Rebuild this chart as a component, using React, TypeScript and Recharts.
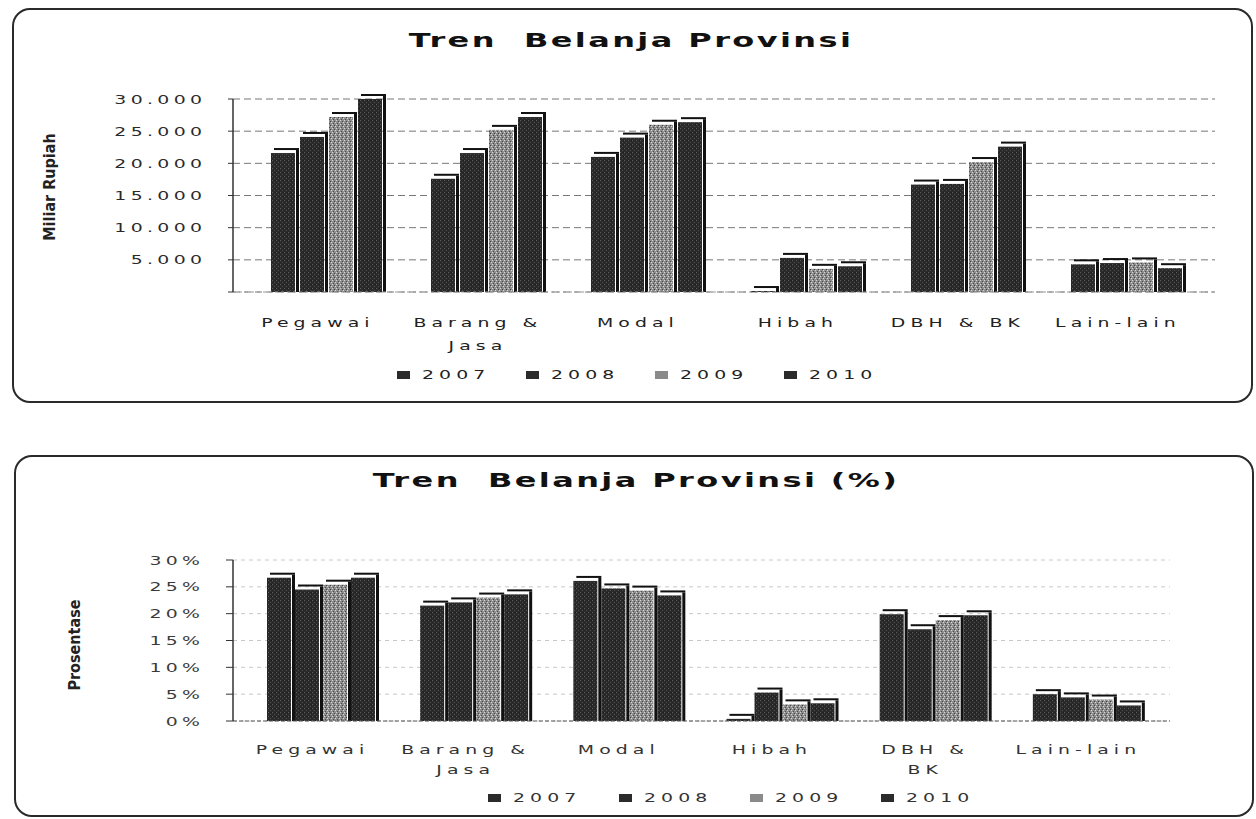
import { BarChart, Bar, XAxis, YAxis, CartesianGrid } from "recharts";

const categories = ["Pegawai", "Barang & Jasa", "Modal", "Hibah", "DBH & BK", "Lain-lain"];
const years = ["2007", "2008", "2009", "2010"];

// Miliar Rupiah
const nominal2007 = [21600, 17600, 21000, 150, 16700, 4300];
const nominal2008 = [24100, 21600, 24000, 5300, 16800, 4500];
const nominal2009 = [27200, 25200, 26000, 3600, 20200, 4600];
const nominal2010 = [30000, 27200, 26400, 4000, 22600, 3700];

// Prosentase
const share2007 = [26.7, 21.5, 26.1, 0.4, 19.9, 5.0];
const share2008 = [24.5, 22.1, 24.7, 5.3, 17.1, 4.4];
const share2009 = [25.4, 23.0, 24.3, 3.1, 18.8, 4.0];
const share2010 = [26.7, 23.6, 23.4, 3.3, 19.7, 2.9];

const nominalTicks = [0, 5000, 10000, 15000, 20000, 25000, 30000];
const shareTicks = [0, 5, 10, 15, 20, 25, 30];

const topLabelLines = [["Pegawai"], ["Barang &", "Jasa"], ["Modal"], ["Hibah"], ["DBH & BK"], ["Lain-lain"]];
const bottomLabelLines = [["Pegawai"], ["Barang &", "Jasa"], ["Modal"], ["Hibah"], ["DBH &", "BK"], ["Lain-lain"]];

const nominalData = categories.map((name, i) => ({
  name,
  y2007: nominal2007[i],
  y2008: nominal2008[i],
  y2009: nominal2009[i],
  y2010: nominal2010[i],
}));

const shareData = categories.map((name, i) => ({
  name,
  y2007: share2007[i],
  y2008: share2008[i],
  y2009: share2009[i],
  y2010: share2010[i],
}));

const SX = 1.45;
const FONT = '"DejaVu Sans", Verdana, sans-serif';
const legendColors = ["#2b2b2b", "#2b2b2b", "#8a8a8a", "#2b2b2b"];

function Bar3D(props: any) {
  const { x, y, width, height, fill } = props;
  if (x == null || y == null || !width) return null;
  const h = Math.max(height || 0, 0);
  return (
    <g>
      <rect x={x} y={y} width={width} height={h} fill={fill} />
      <rect x={x + width + 1} y={y - 3} width={3} height={h + 3} fill="#111" />
      <rect x={x + 3} y={y - 5} width={width + 1} height={2} fill="#111" />
    </g>
  );
}

function Textures({ id }: { id: string }) {
  return (
    <defs>
      <pattern id={`${id}-dark`} width="4" height="4" patternUnits="userSpaceOnUse">
        <rect width="4" height="4" fill="#2a2a2a" />
        <rect x="0" y="0" width="1" height="1" fill="#5e5e5e" />
        <rect x="2" y="2" width="1" height="1" fill="#4c4c4c" />
        <rect x="3" y="0" width="1" height="1" fill="#1a1a1a" />
      </pattern>
      <pattern id={`${id}-light`} width="4" height="4" patternUnits="userSpaceOnUse">
        <rect width="4" height="4" fill="#8e8e8e" />
        <rect x="0" y="0" width="1" height="1" fill="#d4d4d4" />
        <rect x="2" y="1" width="1" height="1" fill="#3c3c3c" />
        <rect x="1" y="3" width="1" height="1" fill="#4a4a4a" />
        <rect x="3" y="2" width="1" height="1" fill="#d8d8d8" />
      </pattern>
    </defs>
  );
}

function makeYTick(format: (v: number) => string, color: string) {
  return (props: any) => {
    const { x, y, payload } = props;
    return (
      <g transform={`translate(${x},${y})`}>
        <text
          x={3}
          y={0}
          dy={4.5}
          textAnchor="end"
          transform={`scale(${SX},1)`}
          fontFamily={FONT}
          fontSize={13}
          letterSpacing={3}
          fill={color}
        >
          {format(payload.value)}
        </text>
      </g>
    );
  };
}

function makeXTick(lines: string[][], first: number, gap: number, color: string) {
  return (props: any) => {
    const { x, y, index, payload } = props;
    const rows = lines[index] || [String(payload.value)];
    return (
      <g transform={`translate(${x - 11},${y})`}>
        {rows.map((t, k) => (
          <text
            key={k}
            x={2}
            y={first + k * gap}
            textAnchor="middle"
            transform={`scale(${SX},1)`}
            fontFamily={FONT}
            fontSize={13}
            letterSpacing={3.5}
            fill={color}
          >
            {t}
          </text>
        ))}
      </g>
    );
  };
}

const thousands = (v: number) => (v === 0 ? "" : String(v).replace(/\B(?=(\d{3})+(?!\d))/g, "."));
const percent = (v: number) => `${v}%`;

function Legend({ left, step, top, color }: { left: number; step: number; top: number; color: string }) {
  return (
    <>
      {years.map((yr, i) => (
        <div key={yr}>
          <div
            style={{
              position: "absolute",
              left: left + i * step,
              top: top - 4,
              width: 13,
              height: 8,
              background: legendColors[i],
            }}
          />
          <div
            style={{
              position: "absolute",
              left: left + i * step + 25,
              top: top - 8,
              fontFamily: FONT,
              fontSize: 13,
              lineHeight: "16px",
              letterSpacing: 3.5,
              color,
              transform: `scaleX(${SX})`,
              transformOrigin: "left center",
              whiteSpace: "nowrap",
            }}
          >
            {yr}
          </div>
        </div>
      ))}
    </>
  );
}

function Title({ text, cx, top }: { text: string; cx: number; top: number }) {
  return (
    <div
      style={{
        position: "absolute",
        left: cx,
        top,
        fontFamily: FONT,
        fontWeight: "bold",
        fontSize: 20,
        lineHeight: "20px",
        letterSpacing: 1.5,
        color: "#111",
        whiteSpace: "pre",
        transform: "translateX(-50%) scaleX(1.6)",
      }}
    >
      {text}
    </div>
  );
}

function AxisTitle({ text, cx, cy }: { text: string; cx: number; cy: number }) {
  return (
    <div
      style={{
        position: "absolute",
        left: cx,
        top: cy,
        fontFamily: '"Liberation Sans Narrow", "DejaVu Sans Condensed", sans-serif',
        fontStretch: "condensed",
        fontWeight: "bold",
        fontSize: 16,
        lineHeight: "18px",
        color: "#222",
        whiteSpace: "nowrap",
        transform: "translate(-50%,-50%) rotate(-90deg)",
      }}
    >
      {text}
    </div>
  );
}

const frame = {
  position: "absolute" as const,
  border: "2px solid #2a2a2a",
  borderRadius: 18,
  boxSizing: "border-box" as const,
};

export default function App() {
  const topFills = ["url(#top-dark)", "url(#top-dark)", "url(#top-light)", "url(#top-dark)"];
  const botFills = ["url(#bot-dark)", "url(#bot-dark)", "url(#bot-light)", "url(#bot-dark)"];
  return (
    <div style={{ position: "absolute", left: 0, top: 0, width: 1256, height: 819, background: "#fff", overflow: "hidden" }}>
      <div style={{ ...frame, left: 12, top: 8, width: 1241, height: 395 }} />
      <div style={{ ...frame, left: 14, top: 455, width: 1240, height: 362 }} />

      <div style={{ position: "absolute", left: 0, top: 0 }}>
        <BarChart
          width={1256}
          height={410}
          data={nominalData}
          margin={{ top: 99, right: 41, bottom: 78, left: 163 }}
          barSize={24}
          barGap={5}
        >
          <Textures id="top" />
          <CartesianGrid vertical={false} stroke="#777" strokeDasharray="7 4" />
          <XAxis
            dataKey="name"
            padding={{ left: 13, right: 9 }}
            height={40}
            interval={0}
            tickLine={false}
            tickSize={0}
            tickMargin={0}
            axisLine={{ stroke: "#999", strokeDasharray: "3 3" }}
            tick={makeXTick(topLabelLines, 35, 23, "#222")}
          />
          <YAxis
            type="number"
            domain={[0, 30000]}
            ticks={nominalTicks}
            interval={0}
            width={70}
            tickSize={5}
            tickMargin={26}
            axisLine={{ stroke: "#333", strokeWidth: 1.5 }}
            tickLine={{ stroke: "#333" }}
            tick={makeYTick(thousands, "#2a2a2a")}
          />
          {years.map((yr, i) => (
            <Bar
              key={yr}
              dataKey={`y${yr}`}
              name={yr}
              fill={topFills[i]}
              shape={Bar3D}
              isAnimationActive={false}
            />
          ))}
        </BarChart>
      </div>

      <div style={{ position: "absolute", left: 0, top: 440 }}>
        <BarChart
          width={1256}
          height={379}
          data={shareData}
          margin={{ top: 120, right: 86, bottom: 58, left: 163 }}
          barSize={24}
          barGap={4}
        >
          <Textures id="bot" />
          <CartesianGrid vertical={false} stroke="#c8c8c8" strokeDasharray="4 4" />
          <XAxis
            dataKey="name"
            padding={{ left: 11, right: 7 }}
            height={40}
            interval={0}
            tickLine={false}
            tickSize={0}
            tickMargin={0}
            axisLine={{ stroke: "#555", strokeDasharray: "4 2" }}
            tick={makeXTick(bottomLabelLines, 33, 20, "#333")}
          />
          <YAxis
            type="number"
            domain={[0, 30]}
            ticks={shareTicks}
            interval={0}
            width={70}
            tickSize={7}
            tickMargin={26}
            axisLine={{ stroke: "#333", strokeWidth: 1.5 }}
            tickLine={{ stroke: "#333" }}
            tick={makeYTick(percent, "#3a3a3a")}
          />
          {years.map((yr, i) => (
            <Bar
              key={yr}
              dataKey={`y${yr}`}
              name={yr}
              fill={botFills[i]}
              shape={Bar3D}
              isAnimationActive={false}
            />
          ))}
        </BarChart>
      </div>

      <Title text="Tren  Belanja Provinsi" cx={631} top={30} />
      <Title text="Tren  Belanja Provinsi (%)" cx={636} top={470} />
      <AxisTitle text="Miliar Rupiah" cx={50} cy={187} />
      <AxisTitle text="Prosentase" cx={75} cy={645} />
      <Legend left={397} step={129} top={375} color="#222" />
      <Legend left={488} step={131} top={798} color="#333" />
    </div>
  );
}
